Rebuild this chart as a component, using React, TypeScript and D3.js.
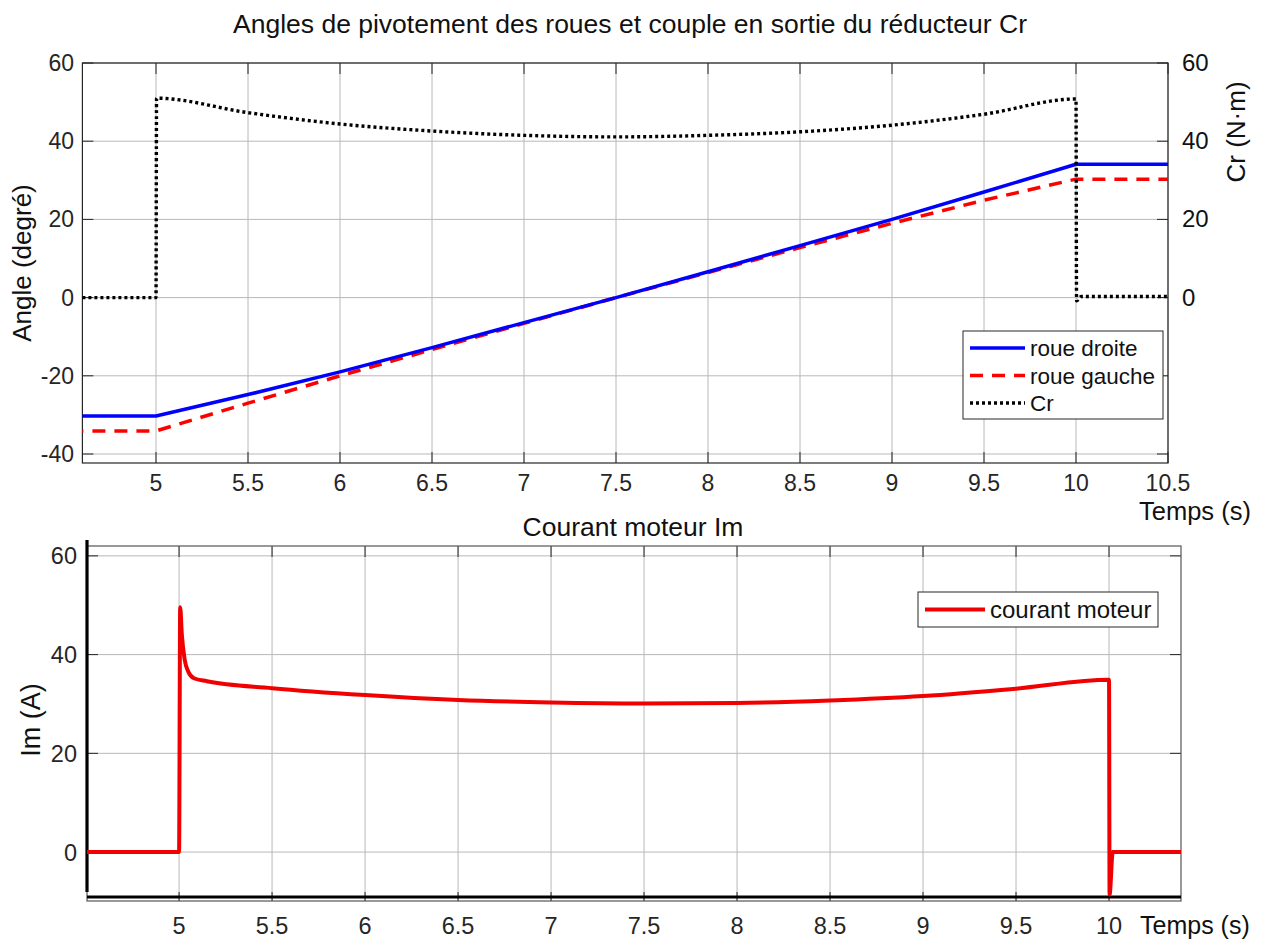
import * as d3 from 'd3';
import React, { useEffect, useRef } from 'react';

// --- top chart data (angles des roues + couple Cr) ---
const tAngle = [4.6, 5, 5.5, 6, 6.5, 7, 7.5, 8, 8.5, 9, 9.5, 10, 10.5];
const roueDroite = [-30.3, -30.3, -24.8, -19.0, -12.8, -6.4, 0, 6.6, 13.3, 20.0, 27.0, 34.1, 34.1];
const roueGauche = [-34.1, -34.1, -27.0, -20.0, -13.3, -6.6, 0, 6.4, 12.8, 19.0, 24.9, 30.3, 30.3];

const tCr = [4.6, 5, 5.003, 5.5, 6, 6.5, 7, 7.5, 8, 8.5, 9, 9.5, 10, 10.003, 10.03, 10.5];
const crVals = [0, 0, 51.0, 47.3, 44.4, 42.6, 41.5, 41.1, 41.5, 42.4, 44.1, 46.9, 50.8, -0.8, 0.3, 0.3];

// --- bottom chart data (courant moteur) ---
const tIm = [4.505, 5, 5.006, 5.015, 5.03, 5.05, 5.08, 5.15, 5.5, 6, 6.5, 7, 7.5, 8, 8.5, 9, 9.5, 10, 10.003, 10.02, 10.387];
const imVals = [0, 0, 49.6, 44.0, 39.0, 36.5, 35.2, 34.6, 33.2, 31.8, 30.8, 30.3, 30.1, 30.2, 30.7, 31.6, 33.1, 34.9, -8.6, 0, 0];

const xTicksTop = [5, 5.5, 6, 6.5, 7, 7.5, 8, 8.5, 9, 9.5, 10, 10.5];
const yTicksTop = [-40, -20, 0, 20, 40, 60];
const yTicksCr = [0, 20, 40, 60];
const xTicksBot = [5, 5.5, 6, 6.5, 7, 7.5, 8, 8.5, 9, 9.5, 10];
const yTicksBot = [0, 20, 40, 60];

const FONT = '"Liberation Sans", Arial, Helvetica, sans-serif';
const AX = '#262626';
const GRID = '#b8b8b8';

const App: React.FC = () => {
  const svgRef = useRef<SVGSVGElement | null>(null);

  useEffect(() => {
    if (!svgRef.current) return;
    const svg = d3.select(svgRef.current);
    svg.selectAll('*').remove();

    svg.append('rect').attr('width', 1267).attr('height', 939).attr('fill', 'white');

    // ================= TOP =================
    const x = d3.scaleLinear().domain([4.6, 10.5]).range([82.4, 1168]);
    const y = d3.scaleLinear().domain([-42.3, 60]).range([463, 63]);
    const [x0, x1] = x.range();
    const [yb, yt] = y.range();

    const top = svg.append('g');

    // grid
    top.selectAll('.vg').data(xTicksTop).enter().append('line')
      .attr('x1', d => x(d)).attr('x2', d => x(d)).attr('y1', yt).attr('y2', yb)
      .attr('stroke', GRID).attr('stroke-width', 1);
    top.selectAll('.hg').data(yTicksTop).enter().append('line')
      .attr('x1', x0).attr('x2', x1).attr('y1', d => y(d)).attr('y2', d => y(d))
      .attr('stroke', GRID).attr('stroke-width', 1);

    // tick marks (inside)
    xTicksTop.forEach(t => {
      top.append('line').attr('x1', x(t)).attr('x2', x(t)).attr('y1', yb).attr('y2', yb - 11).attr('stroke', AX);
      top.append('line').attr('x1', x(t)).attr('x2', x(t)).attr('y1', yt).attr('y2', yt + 11).attr('stroke', AX);
    });
    yTicksTop.forEach(v => {
      top.append('line').attr('x1', x0).attr('x2', x0 + 11).attr('y1', y(v)).attr('y2', y(v)).attr('stroke', AX);
      top.append('line').attr('x1', x1).attr('x2', x1 - 11).attr('y1', y(v)).attr('y2', y(v)).attr('stroke', AX);
    });

    // frame
    top.append('rect').attr('x', x0).attr('y', yt).attr('width', x1 - x0).attr('height', yb - yt)
      .attr('fill', 'none').attr('stroke', AX).attr('stroke-width', 1.2);

    // tick labels
    top.selectAll('.xl').data(xTicksTop).enter().append('text')
      .attr('x', d => x(d)).attr('y', 491).attr('text-anchor', 'middle')
      .attr('font-family', FONT).attr('font-size', 23).attr('fill', AX).text(d => String(d));
    top.selectAll('.yl').data(yTicksTop).enter().append('text')
      .attr('x', 74).attr('y', d => y(d) + 8).attr('text-anchor', 'end')
      .attr('font-family', FONT).attr('font-size', 23).attr('fill', AX).text(d => String(d));
    top.selectAll('.yr').data(yTicksCr).enter().append('text')
      .attr('x', 1182).attr('y', d => y(d) + 8).attr('text-anchor', 'start')
      .attr('font-family', FONT).attr('font-size', 24).attr('fill', '#111').text(d => String(d));

    // labels
    top.append('text').attr('x', 630).attr('y', 33).attr('text-anchor', 'middle')
      .attr('font-family', FONT).attr('font-size', 26.5).attr('fill', '#111')
      .text('Angles de pivotement des roues et couple en sortie du réducteur Cr');
    top.append('text').attr('transform', 'translate(31,263) rotate(-90)').attr('text-anchor', 'middle')
      .attr('font-family', FONT).attr('font-size', 26).attr('fill', '#111').text('Angle (degré)');
    top.append('text').attr('transform', 'translate(1245,132) rotate(-90)').attr('text-anchor', 'middle')
      .attr('font-family', FONT).attr('font-size', 26).attr('fill', '#111').text('Cr (N·m)');
    top.append('text').attr('x', 1139).attr('y', 520)
      .attr('font-family', FONT).attr('font-size', 25.5).attr('fill', '#111').text('Temps (s)');

    const line = d3.line<[number, number]>().x(d => x(d[0])).y(d => y(d[1]));
    const lineS = d3.line<[number, number]>().x(d => x(d[0])).y(d => y(d[1])).curve(d3.curveMonotoneX);
    const plot = top.append('g');

    plot.append('path').attr('d', line(tAngle.map((t, i) => [t, roueGauche[i]] as [number, number])) ?? '')
      .attr('fill', 'none').attr('stroke', '#ff0000').attr('stroke-width', 3.5)
      .attr('stroke-dasharray', '13,9').attr('stroke-dashoffset', -10);
    plot.append('path').attr('d', line(tAngle.map((t, i) => [t, roueDroite[i]] as [number, number])) ?? '')
      .attr('fill', 'none').attr('stroke', '#0000ff').attr('stroke-width', 3.5).attr('stroke-linejoin', 'round');
    plot.append('path').attr('d', lineS(tCr.map((t, i) => [t, crVals[i]] as [number, number])) ?? '')
      .attr('fill', 'none').attr('stroke', '#000').attr('stroke-width', 3.4)
      .attr('stroke-dasharray', '3,3');

    // legend
    const lg = top.append('g');
    lg.append('rect').attr('x', 963).attr('y', 331).attr('width', 200).attr('height', 88)
      .attr('fill', 'white').attr('stroke', AX).attr('stroke-width', 1);
    const entries = [
      { name: 'roue droite', color: '#0000ff', dash: null as string | null, w: 3.5 },
      { name: 'roue gauche', color: '#ff0000', dash: '13,9', w: 3.5 },
      { name: 'Cr', color: '#000', dash: '3,3', w: 3.4 },
    ];
    entries.forEach((e, i) => {
      const yy = 348 + i * 27.5;
      const l = lg.append('line').attr('x1', 970).attr('x2', 1025).attr('y1', yy).attr('y2', yy)
        .attr('stroke', e.color).attr('stroke-width', e.w);
      if (e.dash) l.attr('stroke-dasharray', e.dash);
      lg.append('text').attr('x', 1030).attr('y', yy + 8).attr('font-family', FONT)
        .attr('font-size', 22.5).attr('fill', '#111').text(e.name);
    });

    // ================= BOTTOM =================
    const xb = d3.scaleLinear().domain([4.505, 10.387]).range([87, 1181]);
    const yb2 = d3.scaleLinear().domain([-9.1, 62]).range([897, 546]);
    const bot = svg.append('g');
    const bx0 = 87, bx1 = 1181, byt = 546, byb = 901;

    bot.selectAll('.vg').data(xTicksBot).enter().append('line')
      .attr('x1', d => xb(d)).attr('x2', d => xb(d)).attr('y1', byt).attr('y2', byb)
      .attr('stroke', GRID).attr('stroke-width', 1);
    bot.selectAll('.hg').data(yTicksBot).enter().append('line')
      .attr('x1', bx0).attr('x2', bx1).attr('y1', d => yb2(d)).attr('y2', d => yb2(d))
      .attr('stroke', GRID).attr('stroke-width', 1);

    xTicksBot.forEach(t => {
      bot.append('line').attr('x1', xb(t)).attr('x2', xb(t)).attr('y1', byt).attr('y2', byt + 11).attr('stroke', AX);
      bot.append('line').attr('x1', xb(t)).attr('x2', xb(t)).attr('y1', byb).attr('y2', byb - 9).attr('stroke', AX);
    });
    yTicksBot.forEach(v => {
      bot.append('line').attr('x1', bx0).attr('x2', bx0 + 11).attr('y1', yb2(v)).attr('y2', yb2(v)).attr('stroke', AX);
      bot.append('line').attr('x1', bx1).attr('x2', bx1 - 11).attr('y1', yb2(v)).attr('y2', yb2(v)).attr('stroke', AX);
    });
    bot.append('rect').attr('x', bx0).attr('y', byt).attr('width', bx1 - bx0).attr('height', byb - byt)
      .attr('fill', 'none').attr('stroke', '#555').attr('stroke-width', 1.2);

    // thick axis lines
    bot.append('line').attr('x1', bx0).attr('x2', bx0).attr('y1', 540).attr('y2', 892)
      .attr('stroke', '#000').attr('stroke-width', 3.2);
    bot.append('line').attr('x1', bx0).attr('x2', bx1).attr('y1', 897).attr('y2', 897)
      .attr('stroke', '#000').attr('stroke-width', 3.2);

    bot.selectAll('.xl').data(xTicksBot).enter().append('text')
      .attr('x', d => xb(d)).attr('y', 934).attr('text-anchor', 'middle')
      .attr('font-family', FONT).attr('font-size', 23.5).attr('fill', AX).text(d => String(d));
    bot.selectAll('.yl').data(yTicksBot).enter().append('text')
      .attr('x', 77).attr('y', d => yb2(d) + 8.5).attr('text-anchor', 'end')
      .attr('font-family', FONT).attr('font-size', 23.5).attr('fill', AX).text(d => String(d));

    bot.append('text').attr('x', 633).attr('y', 536).attr('text-anchor', 'middle')
      .attr('font-family', FONT).attr('font-size', 26.5).attr('fill', '#111').text('Courant moteur Im');
    bot.append('text').attr('transform', 'translate(40,720) rotate(-90)').attr('text-anchor', 'middle')
      .attr('font-family', FONT).attr('font-size', 27).attr('fill', '#111').text('Im (A)');
    bot.append('text').attr('x', 1140).attr('y', 934)
      .attr('font-family', FONT).attr('font-size', 25).attr('fill', '#111').text('Temps (s)');

    const lineB = d3.line<[number, number]>().x(d => xb(d[0])).y(d => yb2(d[1])).curve(d3.curveMonotoneX);
    bot.append('path').attr('d', lineB(tIm.map((t, i) => [t, imVals[i]] as [number, number])) ?? '')
      .attr('fill', 'none').attr('stroke', '#f00000').attr('stroke-width', 4);

    bot.append('rect').attr('x', 918).attr('y', 592).attr('width', 240).attr('height', 35)
      .attr('fill', 'white').attr('stroke', AX).attr('stroke-width', 1);
    bot.append('line').attr('x1', 925).attr('x2', 985).attr('y1', 609.5).attr('y2', 609.5)
      .attr('stroke', '#f00000').attr('stroke-width', 4);
    bot.append('text').attr('x', 990).attr('y', 618).attr('font-family', FONT)
      .attr('font-size', 24).attr('fill', '#111').text('courant moteur');
  }, []);

  return (
    <svg ref={svgRef} width={1267} height={939}
      style={{ position: 'absolute', left: 0, top: 0, display: 'block' }} />
  );
};

export default App;
